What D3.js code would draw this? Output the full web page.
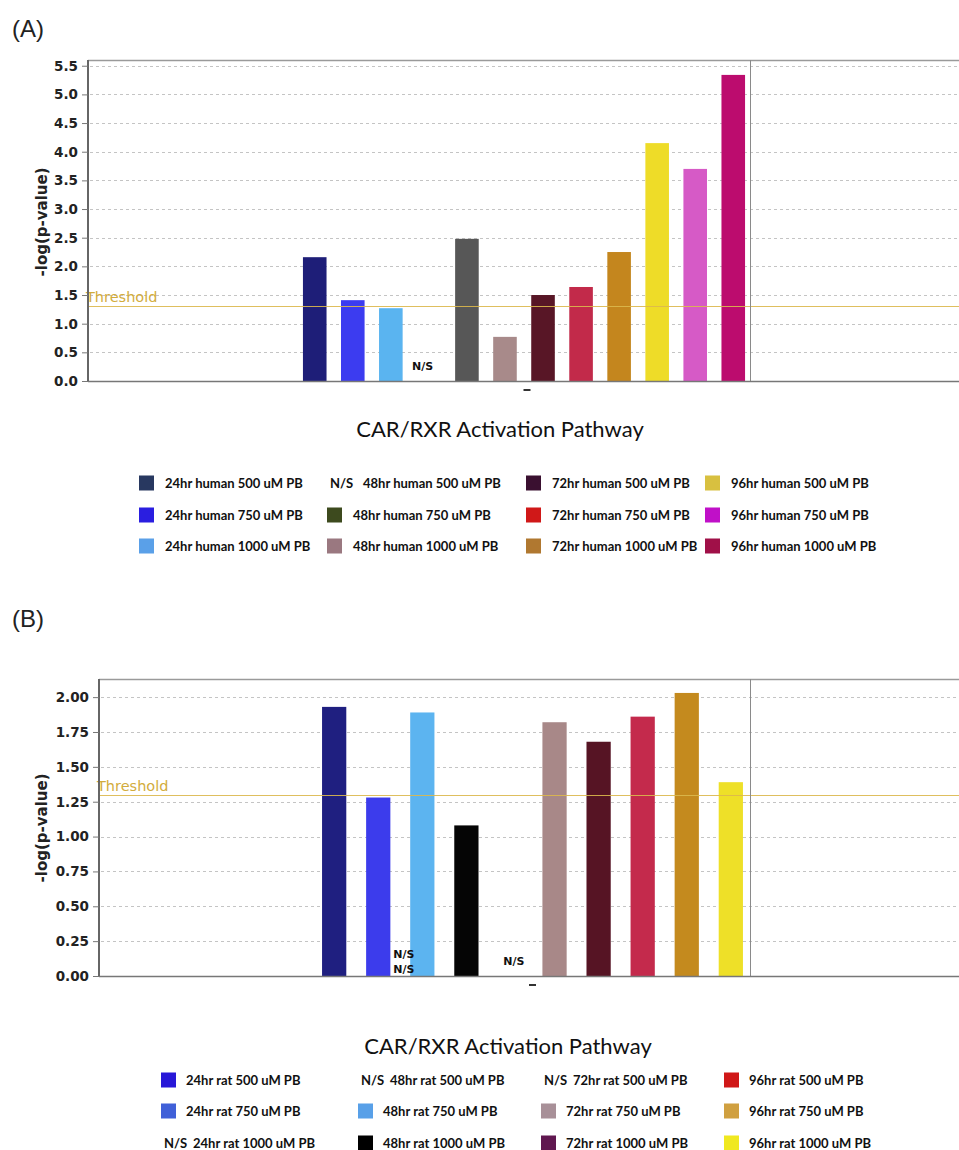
<!DOCTYPE html>
<html>
<head>
<meta charset="utf-8">
<title>CAR/RXR Activation Pathway</title>
<style>
  body { margin: 0; background: #fff; }
  .tick text { font-family: "DejaVu Sans", sans-serif; font-weight: bold; font-size: 13.5px; fill: #222; }
  .grid line { stroke: #c4c4c4; stroke-dasharray: 3,3; }
  .legend text { font-family: Lato, sans-serif; font-weight: bold; font-size: 13px; fill: #111; }
  .ns { font-family: "DejaVu Sans", sans-serif; font-weight: bold; font-size: 11px; fill: #111; }
</style>
</head>
<body>
<script src="https://d3js.org/d3.v7.min.js"></script>
<script>
// --- data -------------------------------------------------------------
var pathway = "CAR/RXR Activation Pathway";
var threshold = 1.3;

// panel A : human
var humanSeries = ["24hr human 500 uM PB", "24hr human 750 uM PB", "24hr human 1000 uM PB",
                   "48hr human 500 uM PB", "48hr human 750 uM PB", "48hr human 1000 uM PB",
                   "72hr human 500 uM PB", "72hr human 750 uM PB", "72hr human 1000 uM PB",
                   "96hr human 500 uM PB", "96hr human 750 uM PB", "96hr human 1000 uM PB"];
var humanValues = [2.16, 1.41, 1.27, null, 2.48, 0.77, 1.50, 1.64, 2.25, 4.15, 3.70, 5.34];
var humanBarColors = ["#1e1e78", "#3c3cf0", "#5ab4f0", null, "#575757", "#a88a8a",
                      "#581626", "#c22a4a", "#c4861e", "#eedc28", "#d65ac6", "#bc0c6e"];
var humanLegendColors = ["#283860", "#2a1ee0", "#5aa0e8", null, "#3d4a1e", "#9a7880",
                         "#3a1030", "#d01818", "#b07830", "#d8c040", "#c010c8", "#a01048"];
var humanTicks = [0, 0.5, 1, 1.5, 2, 2.5, 3, 3.5, 4, 4.5, 5, 5.5];

// panel B : rat
var ratSeries = ["24hr rat 500 uM PB", "24hr rat 750 uM PB", "24hr rat 1000 uM PB",
                 "48hr rat 500 uM PB", "48hr rat 750 uM PB", "48hr rat 1000 uM PB",
                 "72hr rat 500 uM PB", "72hr rat 750 uM PB", "72hr rat 1000 uM PB",
                 "96hr rat 500 uM PB", "96hr rat 750 uM PB", "96hr rat 1000 uM PB"];
var ratLegendColors = ["#2818d8", "#4060d8", null, null, "#58a0e8", "#000000",
                       null, "#a89098", "#601850", "#d01818", "#d0a040", "#f0e820"];
// bars as drawn (two N/S series are stacked as notes after the 24hr 750 bar)
var ratBarSlots = ["24hr rat 500 uM PB", "24hr rat 750 uM PB", "48hr rat 750 uM PB",
                   "48hr rat 1000 uM PB", "72hr rat 500 uM PB", "72hr rat 750 uM PB",
                   "72hr rat 1000 uM PB", "96hr rat 500 uM PB", "96hr rat 750 uM PB",
                   "96hr rat 1000 uM PB"];
var ratValues = [1.93, 1.28, 1.89, 1.08, null, 1.82, 1.68, 1.86, 2.03, 1.39];
var ratBarColors = ["#1f1f80", "#3c3cec", "#5cb4f0", "#050505", null, "#a88888",
                    "#561424", "#c42a4c", "#c48a1e", "#eee028"];
var ratStackedNS = ["24hr rat 1000 uM PB", "48hr rat 500 uM PB"];
var ratTicks = [0, 0.25, 0.5, 0.75, 1, 1.25, 1.5, 1.75, 2];

// --- drawing ----------------------------------------------------------
var W = 959, H = 1150;
var svg = d3.select("body").append("svg")
    .attr("width", W)
    .attr("height", H)
    .style("font-family", "DejaVu Sans, sans-serif");

function drawPanel(p) {
    var g = svg.append("g");

    var y = d3.scaleLinear().domain([0, p.yMax]).range([p.bottom, p.top]);
    var xCat = d3.scaleBand().domain([pathway]).range([p.left, p.right]);
    var x1 = d3.scaleBand().domain(p.slots)
        .range([p.groupLeft, p.groupRight])
        .paddingInner(p.padIn).paddingOuter(p.padOut);

    // panel letter
    g.append("text")
        .attr("x", 12).attr("y", p.letterY)
        .style("font-family", "Liberation Sans, Arial, sans-serif")
        .style("font-size", "24px")
        .attr("fill", "#222")
        .text(p.letter);

    // dotted grid
    g.append("g").attr("class", "grid")
        .selectAll("line").data(p.ticks.filter(function(d) { return d > 0; }))
        .enter().append("line")
        .attr("x1", p.left + 2).attr("x2", p.right)
        .attr("y1", function(d) { return Math.round(y(d)) + 0.5; })
        .attr("y2", function(d) { return Math.round(y(d)) + 0.5; });

    // bars
    g.append("g").selectAll("rect")
        .data(p.values.map(function(v, i) { return {k: p.slots[i], v: v, c: p.colors[i]}; })
                .filter(function(d) { return d.v !== null; }))
        .enter().append("rect")
        .attr("x", function(d) { return x1(d.k); })
        .attr("width", x1.bandwidth())
        .attr("y", function(d) { return y(d.v); })
        .attr("height", function(d) { return y(0) - y(d.v); })
        .attr("fill", function(d) { return d.c; });

    // N/S for empty slots
    g.append("g").selectAll("text")
        .data(p.slots.filter(function(k, i) { return p.values[i] === null; }))
        .enter().append("text")
        .attr("class", "ns")
        .attr("x", function(k) { return x1(k) + p.nsShift; })
        .attr("y", y(0) - 11)
        .text("N/S");

    if (p.stacked) {
        g.append("g").selectAll("text")
            .data(p.stacked.names)
            .enter().append("text")
            .attr("class", "ns")
            .attr("x", x1(p.stacked.after) + x1.bandwidth() + 3)
            .attr("y", function(d, i) { return y(0) - 18 + i * 15; })
            .text("N/S");
    }

    // threshold
    g.append("line")
        .attr("x1", p.left).attr("x2", p.right)
        .attr("y1", Math.round(y(threshold)) + 0.5)
        .attr("y2", Math.round(y(threshold)) + 0.5)
        .attr("stroke", "#dcb84c").attr("stroke-opacity", 0.9);
    g.append("text")
        .attr("x", p.left - 2).attr("y", y(threshold) - 4)
        .attr("fill", "#d2ac3c")
        .style("font-size", "14.5px")
        .text("Threshold");

    // frame: top border, group separator, bottom axis
    g.append("line")
        .attr("x1", p.left).attr("x2", p.right)
        .attr("y1", p.top + 0.5).attr("y2", p.top + 0.5)
        .attr("stroke", "#9a9a9a").attr("stroke-width", 1.5);
    g.append("line")
        .attr("x1", p.groupRight + 0.5).attr("x2", p.groupRight + 0.5)
        .attr("y1", p.top).attr("y2", p.bottom)
        .attr("stroke", "#8a8a8a");
    g.append("line")
        .attr("x1", p.left).attr("x2", p.right)
        .attr("y1", p.bottom + 0.5).attr("y2", p.bottom + 0.5)
        .attr("stroke", "#777").attr("stroke-width", 1.5);

    // category tick under the axis
    g.append("line")
        .attr("x1", xCat(pathway) + xCat.bandwidth() / 2 - 3)
        .attr("x2", xCat(pathway) + xCat.bandwidth() / 2 + 4)
        .attr("y1", p.bottom + 9).attr("y2", p.bottom + 9)
        .attr("stroke", "#333").attr("stroke-width", 2);

    // y axis
    var yAxis = d3.axisLeft(y).tickValues(p.ticks).tickFormat(d3.format(p.fmt))
        .tickSize(6).tickPadding(4);
    var ya = g.append("g")
        .attr("transform", "translate(" + p.left + ",0)")
        .call(yAxis);
    ya.select(".domain").attr("stroke", "#666").attr("stroke-width", 2)
        .attr("d", "M0," + p.top + "V" + p.bottom);
    ya.selectAll(".tick line").attr("stroke", "#777");

    g.append("text")
        .attr("transform", "translate(" + 47 + "," + p.titleY + ") rotate(-90)")
        .attr("text-anchor", "middle")
        .style("font-weight", "bold")
        .style("font-size", "15px")
        .attr("fill", "#222")
        .text("-log(p-value)");

    // x title
    g.append("text")
        .attr("x", p.xTitleX).attr("y", p.xTitleY)
        .attr("text-anchor", "middle")
        .style("font-family", "Lato, sans-serif")
        .style("font-size", "22px")
        .attr("fill", "#111")
        .text(pathway);

    // legend: 4 columns (time) x 3 rows (dose)
    var lg = g.append("g").attr("class", "legend");
    var items = lg.selectAll("g")
        .data(p.legendNames)
        .enter().append("g")
        .attr("transform", function(d, i) {
            return "translate(" + p.legendCols[Math.floor(i / 3)] + "," + p.legendRows[i % 3] + ")";
        });
    items.filter(function(d, i) { return p.legendColors[i] !== null; })
        .append("rect")
        .attr("x", 0).attr("y", -7.5)
        .attr("width", 15).attr("height", 15)
        .attr("fill", function(d) { return p.legendColors[p.legendNames.indexOf(d)]; });
    items.filter(function(d, i) { return p.legendColors[i] === null; })
        .append("text")
        .attr("x", 3).attr("dy", "0.35em")
        .text("N/S");
    items.append("text")
        .attr("x", function(d, i) { return p.legendColors[p.legendNames.indexOf(d)] === null ? p.nsText : p.swText; })
        .attr("dy", "0.35em")
        .text(function(d) { return d; });
}

drawPanel({
    letter: "(A)", letterY: 37,
    left: 88, right: 965, top: 60, bottom: 381, yMax: 5.6,
    groupLeft: 298, groupRight: 750, padIn: 0.38, padOut: 0.13,
    slots: humanSeries, values: humanValues, colors: humanBarColors,
    ticks: humanTicks, fmt: ".1f", nsShift: -5,
    titleY: 222, xTitleX: 500, xTitleY: 437,
    legendNames: humanSeries, legendColors: humanLegendColors,
    legendCols: [139, 327, 526, 705], legendRows: [483, 515, 546],
    swText: 26, nsText: 36
});

drawPanel({
    letter: "(B)", letterY: 627,
    left: 99, right: 965, top: 679, bottom: 976, yMax: 2.13,
    groupLeft: 315, groupRight: 750, padIn: 0.45, padOut: 0.16,
    slots: ratBarSlots, values: ratValues, colors: ratBarColors,
    ticks: ratTicks, fmt: ".2f", nsShift: 5,
    stacked: {after: "24hr rat 750 uM PB", names: ratStackedNS},
    titleY: 828, xTitleX: 508, xTitleY: 1054,
    legendNames: ratSeries, legendColors: ratLegendColors,
    legendCols: [161, 358, 541, 724], legendRows: [1080, 1111, 1143],
    swText: 25, nsText: 32
});
</script>
</body>
</html>
